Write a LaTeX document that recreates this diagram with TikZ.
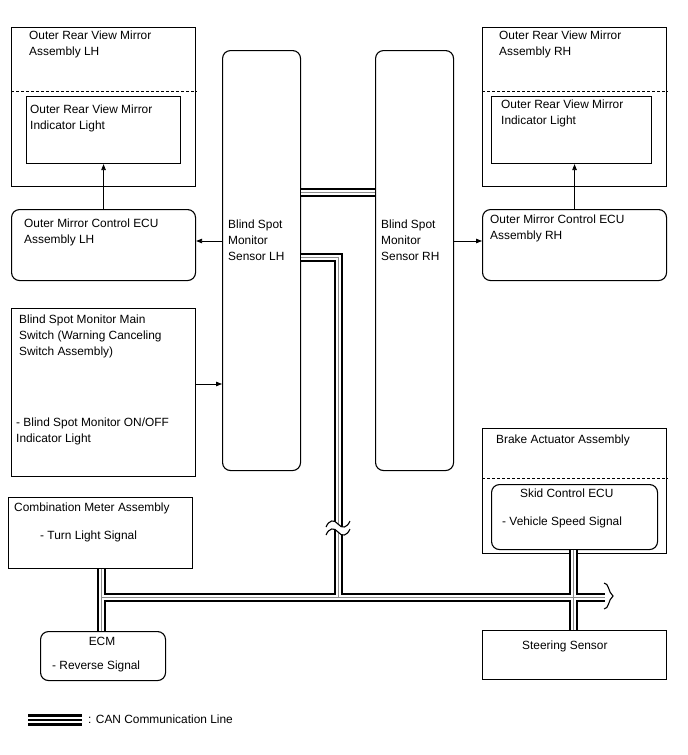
\documentclass[tikz,border=0pt]{standalone}
\usepackage{fontspec}
\setmainfont{Liberation Sans}
\usetikzlibrary{arrows.meta}
\newcommand\canroutes[1]{%
 \draw[#1] (sensL.east |- c192) -- (sensR.west |- c192);
 \draw[#1] (sensL.east |- vtop) -- (vtop) -- (busM);
 \draw[#1] (busL) -- (busR);
 \draw[#1] (meter.south -| busL) -- (ecm.north -| busL);
 \draw[#1] (skid.south -| busX) -- (steer.north -| busX);
}
\begin{document}
\begin{tikzpicture}[x=1pt,y=-1pt,
  box/.style={draw, line width=1.1pt, inner sep=0pt, anchor=north west},
  rbox/.style={box, rounded corners=8pt},
  lbl/.style={inner sep=0pt, anchor=north west, align=left, font=\fontsize{11.9}{15.8}\selectfont},
  arr/.style={line width=0.8pt, -{Triangle[length=6pt,width=4.5pt]}},
  dsh/.style={line width=0.9pt, dash pattern=on 3pt off 2pt},
  canblack/.style={line width=9pt, black},
  canwhite/.style={line width=5pt, white},
  cangray/.style={line width=1pt, black!45},
  brk/.style={line width=1.1pt},
]
\useasboundingbox[fill=white] (0,0) rectangle (688,755);

% coordinates
\coordinate (c192) at (0,192);
\coordinate (c241) at (0,241);
\coordinate (c384) at (0,384);
\coordinate (dLine) at (0,91);
\coordinate (dBrake) at (0,478);
\coordinate (vtop) at (338,257);
\coordinate (busL) at (101,597);
\coordinate (busM) at (338,597);
\coordinate (busX) at (573,597);
\coordinate (busR) at (605,597);

% boxes
\node[box, minimum width=184pt, minimum height=159pt] (assyL) at (11,27) {};
\node[box, minimum width=154pt, minimum height=67pt] (lightL) at (26,96) {};
\node[rbox, minimum width=184pt, minimum height=71pt] (ecuL) at (11,209) {};
\node[rbox, minimum width=78pt, minimum height=420pt] (sensL) at (222,50) {};
\node[rbox, minimum width=78pt, minimum height=420pt] (sensR) at (375,50) {};
\node[box, minimum width=184pt, minimum height=159pt] (assyR) at (482,27) {};
\node[box, minimum width=160pt, minimum height=67pt] (lightR) at (491,96) {};
\node[rbox, minimum width=184pt, minimum height=71pt] (ecuR) at (482,209) {};
\node[box, minimum width=184pt, minimum height=168pt] (sw) at (11,308) {};
\node[box, minimum width=184pt, minimum height=125pt] (brake) at (482,428) {};
\node[rbox, minimum width=166pt, minimum height=65pt] (skid) at (491,484) {};
\node[box, minimum width=184pt, minimum height=71pt] (meter) at (8,497) {};
\node[rbox, minimum width=125pt, minimum height=49pt] (ecm) at (40,631) {};
\node[box, minimum width=184pt, minimum height=49pt] (steer) at (482,630) {};

% dashed separators
\draw[dsh] (assyL.west |- dLine) -- (assyL.east |- dLine);
\draw[dsh] (assyR.west |- dLine) -- (assyR.east |- dLine);
\draw[dsh] (brake.west |- dBrake) -- (brake.east |- dBrake);

% labels
\node[lbl] (tAssyL) at (29,31) {Outer Rear View Mirror\\Assembly LH};
\node[lbl] (tLightL) at (30,105) {Outer Rear View Mirror\\Indicator Light};
\node[lbl] (tEcuL) at (24,219) {Outer Mirror Control ECU\\Assembly LH};
\node[lbl] (tSensL) at (228,220) {Blind Spot\\Monitor\\Sensor LH};
\node[lbl] (tSensR) at (381,220) {Blind Spot\\Monitor\\Sensor RH};
\node[lbl] (tAssyR) at (499,31) {Outer Rear View Mirror\\Assembly RH};
\node[lbl] (tLightR) at (501,100) {Outer Rear View Mirror\\Indicator Light};
\node[lbl] (tEcuR) at (490,215) {Outer Mirror Control ECU\\Assembly RH};
\node[lbl] (tSw) at (19,315) {Blind Spot Monitor Main\\Switch (Warning Canceling\\Switch Assembly)};
\node[lbl] (tSw2) at (16,418) {- Blind Spot Monitor ON/OFF\\Indicator Light};
\node[lbl] (tBrake) at (496,435) {Brake Actuator Assembly};
\node[lbl] (tSkid) at (520,489) {Skid Control ECU};
\node[lbl] (tSpeed) at (502,517) {- Vehicle Speed Signal};
\node[lbl] (tMeter) at (14,503) {Combination Meter Assembly};
\node[lbl] (tTurn) at (40,531) {- Turn Light Signal};
\node[lbl, anchor=north] (tEcm) at (102,637) {ECM};
\node[lbl] (tRev) at (52,661) {- Reverse Signal};
\node[lbl] (tSteer) at (522,641) {Steering Sensor};

% arrows
\draw[arr] (ecuL.north) -- (lightL.south);
\draw[arr] (ecuR.north) -- (ecuR.north |- lightR.south);
\draw[arr] (sensL.west |- c241) -- (ecuL.east |- c241);
\draw[arr] (sensR.east |- c241) -- (ecuR.west |- c241);
\draw[arr] (sw.east |- c384) -- (sensL.west |- c384);

% CAN lines
\canroutes{canblack}
\canroutes{canwhite}
\canroutes{cangray}

% break on vertical line
\fill[white] (326,527) .. controls (329,520) and (334,519) .. (338,524) .. controls (342,529) and (347,528) .. (350,521)
  -- (350,529) .. controls (347,536) and (342,537) .. (338,532) .. controls (334,527) and (329,528) .. (326,535) -- cycle;
\draw[brk] (326,527) .. controls (329,520) and (334,519) .. (338,524) .. controls (342,529) and (347,528) .. (350,521);
\draw[brk] (326,535) .. controls (329,528) and (334,527) .. (338,532) .. controls (342,537) and (347,536) .. (350,529);

% break at bus end
\draw[brk] (604,583) .. controls (609,583) and (608,592) .. (613,596) .. controls (608,600) and (609,609) .. (604,609);

% legend
\coordinate (lgA) at (28,720);
\coordinate (lgB) at (82,720);
\draw[line width=2.2pt] ([yshift=4.5pt]lgA) -- ([yshift=4.5pt]lgB);
\draw[line width=2.2pt] (lgA) -- (lgB);
\draw[line width=2.2pt] ([yshift=-4.5pt]lgA) -- ([yshift=-4.5pt]lgB);
\node[lbl, anchor=west] (tLegend) at (88,719) {: CAN Communication Line};
\end{tikzpicture}
\end{document}
